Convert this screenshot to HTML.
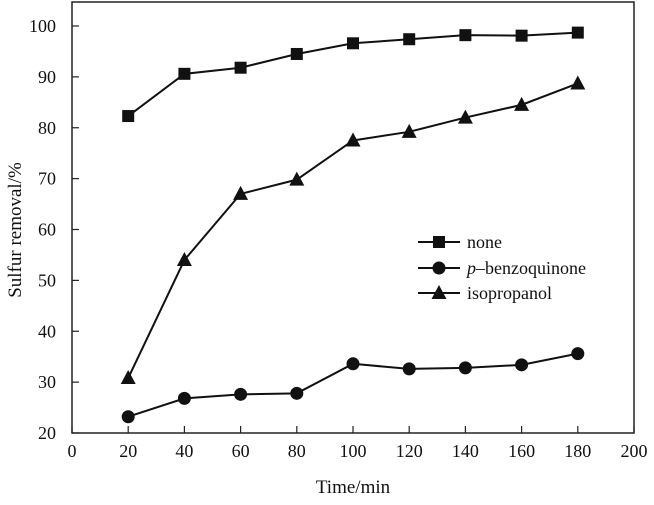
<!DOCTYPE html>
<html><head><meta charset="utf-8"><style>
body{margin:0;background:#fff}
text{font-family:"Liberation Serif",serif;fill:#111}
</style></head><body>
<svg id="c" width="654" height="500" xmlns="http://www.w3.org/2000/svg"></svg>
<script>
const xTicks=[0,20,40,60,80,100,120,140,160,180,200];
const yTicks=[20,30,40,50,60,70,80,90,100];
const times=[20,40,60,80,100,120,140,160,180];
const noneVals=[82.3,90.6,91.8,94.5,96.6,97.4,98.2,98.1,98.7];
const pbqVals=[23.2,26.8,27.6,27.8,33.6,32.6,32.8,33.4,35.6];
const isoVals=[30.8,54.0,67.0,69.8,77.5,79.2,82.0,84.5,88.7];
const seriesNames=["none","p-benzoquinone","isopropanol"];

const svg=document.getElementById('c');
const NS='http://www.w3.org/2000/svg';
const L=72,R=634,T=2,B=433;
const sx=v=>L+(v-0)/(200-0)*(R-L);
const sy=v=>B-(v-20)/(100-20)*(B-26);
function mk(tag,attrs,txt){const e=document.createElementNS(NS,tag);for(const k in attrs)e.setAttribute(k,attrs[k]);if(txt!=null)e.textContent=txt;svg.appendChild(e);return e;}

const frame=mk('rect',{x:L,y:T,width:R-L,height:B-T,fill:'none',stroke:'#222','stroke-width':1.5});



xTicks.forEach(v=>{
  const t=mk('line',{x1:sx(v),x2:sx(v),y1:B,y2:B-7,stroke:'#222','stroke-width':1.2});
  
  
  const l=mk('text',{x:sx(v),y:B+24,'text-anchor':'middle','font-size':18},v);
  
  
});
yTicks.forEach(v=>{
  const t=mk('line',{x1:L,x2:L+7,y1:sy(v),y2:sy(v),stroke:'#222','stroke-width':1.2});
  
  
  const l=mk('text',{x:L-16,y:sy(v)+6,'text-anchor':'end','font-size':18},v);
  
  
});
const xt=mk('text',{x:353,y:493,'text-anchor':'middle','font-size':19},'Time/min');


const yt=mk('text',{x:0,y:0,'text-anchor':'middle','font-size':19,transform:'translate(21,230) rotate(-90)'},'Sulfur removal/%');



function marker(shape,x,y){
  let m;
  if(shape==='sq')m=mk('rect',{x:x-6,y:y-6,width:12,height:12,fill:'#111'});
  else if(shape==='ci')m=mk('circle',{cx:x,cy:y,r:6.5,fill:'#111'});
  else m=mk('polygon',{points:`${x},${y-8} ${x-7.5},${y+6} ${x+7.5},${y+6}`,fill:'#111'});
  return m;
}
const all=[[noneVals,'sq','series-none'],[pbqVals,'ci','series-p-benzoquinone'],[isoVals,'tr','series-isopropanol']];
all.forEach(([vals,sh,name])=>{
  const p=mk('polyline',{points:vals.map((v,i)=>sx(times[i])+','+sy(v)).join(' '),fill:'none',stroke:'#111','stroke-width':2});
  
  
  vals.forEach((v,i)=>{
    const m=marker(sh,sx(times[i]),sy(v));
    
    
  });
});
const legY=[242,268,293];
all.forEach(([vals,sh,name],i)=>{
  const l=mk('line',{x1:418,x2:460,y1:legY[i],y2:legY[i],stroke:'#111','stroke-width':2});
  
  
  const m=marker(sh,439,legY[i]);
  
  
  let t;
  if(i===1){
    t=mk('text',{x:467,y:legY[i]+6,'font-size':18});
    const a=document.createElementNS(NS,'tspan');a.setAttribute('font-style','italic');a.textContent='p';t.appendChild(a);
    const b=document.createElementNS(NS,'tspan');b.textContent='\u2013benzoquinone';t.appendChild(b);
  } else t=mk('text',{x:467,y:legY[i]+6,'font-size':18},seriesNames[i]);
  
  
});
</script>
</body></html>
